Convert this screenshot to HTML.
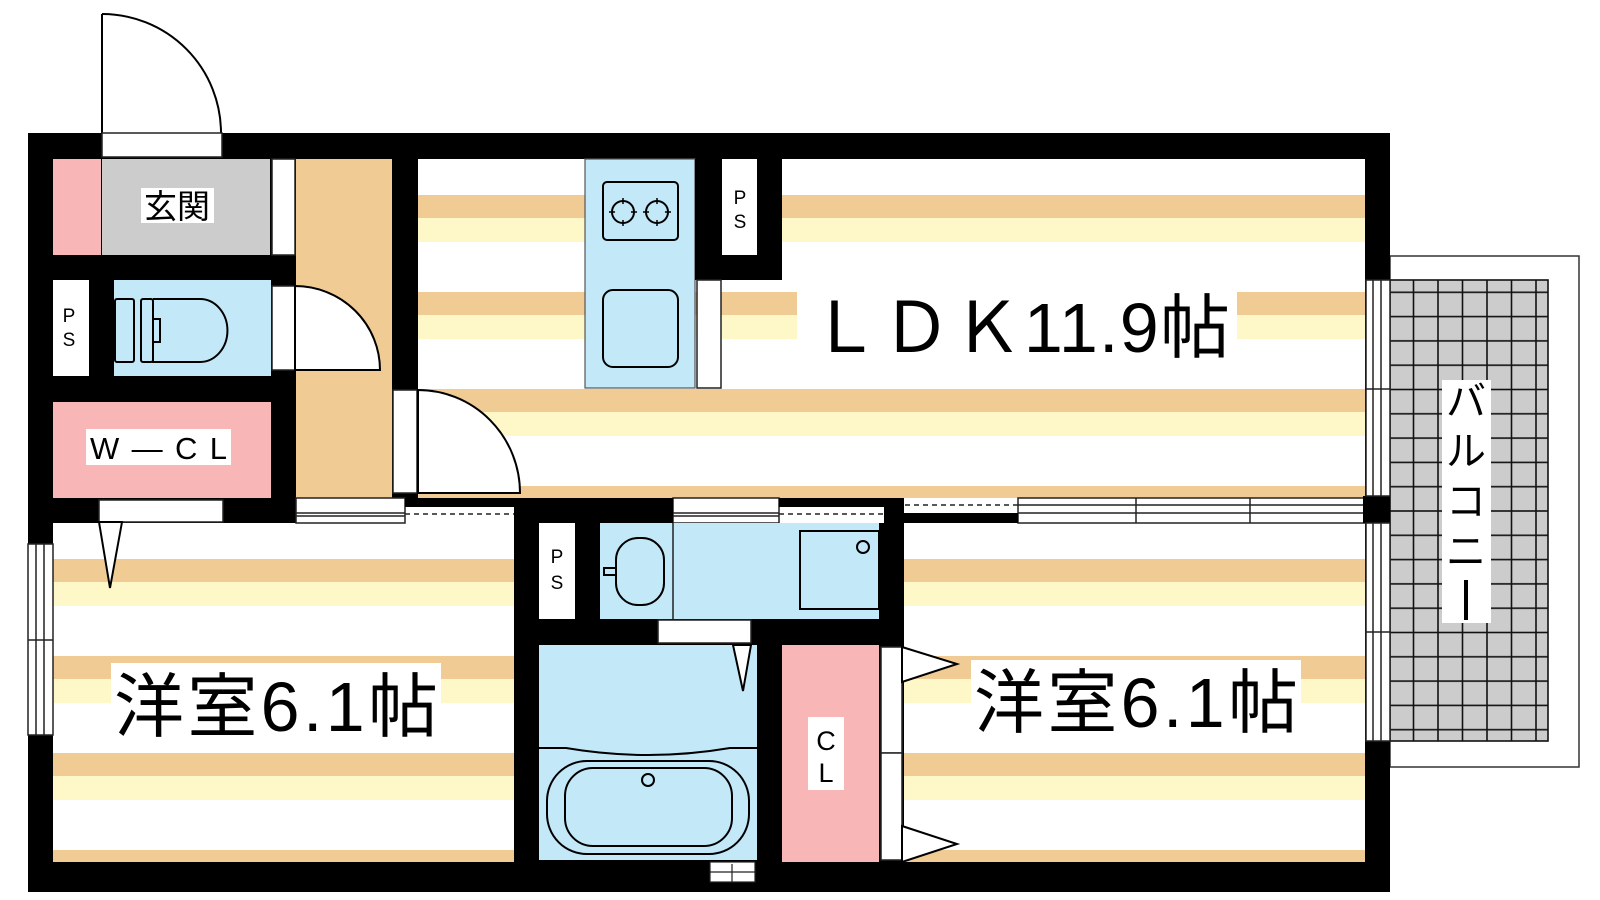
<!DOCTYPE html>
<html><head><meta charset="utf-8"><style>
html,body{margin:0;padding:0;background:#fff;}
svg{display:block;}
text{font-family:"Liberation Sans","Noto Sans CJK JP",sans-serif;fill:#000;}
</style></head><body>
<svg width="1600" height="900" viewBox="0 0 1600 900" xmlns="http://www.w3.org/2000/svg">
<defs>
<pattern id="st" x="0" y="98" width="10" height="97" patternUnits="userSpaceOnUse">
<rect x="0" y="0" width="10" height="23" fill="#f0cb94"/>
<rect x="0" y="23" width="10" height="24" fill="#fef8c9"/>
</pattern>
<pattern id="st2" x="0" y="74" width="10" height="97" patternUnits="userSpaceOnUse">
<rect x="0" y="0" width="10" height="23" fill="#f0cb94"/>
<rect x="0" y="23" width="10" height="24" fill="#fef8c9"/>
</pattern>
<pattern id="grid" x="1389" y="268" width="24.5" height="24.3" patternUnits="userSpaceOnUse">
<rect width="24.5" height="24.3" fill="#cccccc" stroke="#111" stroke-width="1.6"/>
</pattern>
</defs>

<rect x="1390" y="256" width="189" height="511" fill="#fff" stroke="#333" stroke-width="1.5"/>
<rect x="1390" y="280" width="158" height="461" fill="url(#grid)" stroke="#111" stroke-width="1.6"/>
<rect x="1442" y="380" width="49" height="243" fill="#fff"/>
<text x="1466" y="415" font-size="40" text-anchor="middle">バ</text>
<text x="1466" y="465" font-size="40" text-anchor="middle">ル</text>
<text x="1466" y="515" font-size="40" text-anchor="middle">コ</text>
<text x="1466" y="565" font-size="40" text-anchor="middle">ニ</text>
<rect x="1464" y="580" width="4" height="40" fill="#000"/>

<path d="M102,14 A119,119 0 0 1 221,133" fill="none" stroke="#000" stroke-width="2"/>
<line x1="102" y1="14" x2="102" y2="133" stroke="#000" stroke-width="2"/>

<rect x="28" y="133" width="1362" height="759" fill="#000"/>

<rect x="418" y="159" width="947" height="339" fill="#fff"/>
<rect x="418" y="159" width="947" height="339" fill="url(#st)"/>
<rect x="296" y="159" width="96" height="339" fill="#f0cb94"/>
<rect x="53" y="523" width="461" height="339" fill="#fff"/>
<rect x="53" y="523" width="461" height="339" fill="url(#st2)"/>
<rect x="904" y="523" width="461" height="339" fill="#fff"/>
<rect x="904" y="523" width="461" height="339" fill="url(#st2)"/>

<rect x="53" y="159" width="48" height="96" fill="#f8b6b7"/>
<rect x="102" y="159" width="168" height="96" fill="#cccccc"/>
<rect x="272" y="159" width="23" height="96" fill="#fff" stroke="#222" stroke-width="1.5"/>
<rect x="102" y="133" width="120" height="24" fill="#fff" stroke="#222" stroke-width="1.5"/>
<rect x="141" y="188" width="73" height="35" fill="#fff"/>
<text x="177" y="218" font-size="33" text-anchor="middle">玄関</text>

<rect x="53" y="280" width="36" height="96" fill="#fff"/>
<text x="69" y="322" font-size="19" text-anchor="middle">P</text>
<text x="69" y="346" font-size="19" text-anchor="middle">S</text>

<rect x="114" y="280" width="157" height="96" fill="#c3e9f9"/>
<g fill="none" stroke="#000" stroke-width="2">
<rect x="115" y="299" width="19" height="63" rx="2"/>
<rect x="141" y="299" width="12" height="63" rx="2"/>
<path d="M153,299 H200 A27,31 0 0 1 200,362 H153 V342 H160 V319 H153"/>
</g>
<rect x="272" y="286" width="23" height="84" fill="#fff" stroke="#222" stroke-width="1.5"/>
<path d="M295,286 L295,370 L380,370 A85,84 0 0 0 295,286 Z" fill="#fff" stroke="#000" stroke-width="2"/>

<rect x="53" y="402" width="218" height="96" fill="#f8b6b7"/>
<rect x="86" y="429" width="145" height="36" fill="#fff"/>
<text x="90" y="459" font-size="31" textLength="137" lengthAdjust="spacing">W—CL</text>
<rect x="99" y="500" width="124" height="22" fill="#fff" stroke="#222" stroke-width="1.5"/>
<path d="M99,522 L122,522 L110,588 Z" fill="#fff" stroke="#000" stroke-width="2"/>

<rect x="393" y="390" width="24" height="103" fill="#fff" stroke="#222" stroke-width="1.5"/>
<path d="M418,390 L418,493 L520,493 A102,103 0 0 0 418,390 Z" fill="#fff" stroke="#000" stroke-width="2"/>

<rect x="585" y="159" width="110" height="229" fill="#c3e9f9" stroke="#555" stroke-width="1.2"/>
<g fill="none" stroke="#000" stroke-width="2">
<rect x="603" y="182" width="75" height="58" rx="4"/>
<circle cx="623" cy="212" r="11"/><circle cx="657" cy="212" r="11"/>
<path d="M609,212h28M623,198v28M643,212h28M657,198v28" stroke-width="1.5"/>
<rect x="603" y="290" width="75" height="77" rx="10"/>
</g>
<circle cx="623" cy="212" r="8" fill="#c3e9f9"/><circle cx="657" cy="212" r="8" fill="#c3e9f9"/>
<rect x="695" y="159" width="87" height="121" fill="#000"/>
<rect x="722" y="159" width="35" height="96" fill="#fff"/>
<text x="740" y="204" font-size="19" text-anchor="middle">P</text>
<text x="740" y="228" font-size="19" text-anchor="middle">S</text>
<rect x="697" y="280" width="24" height="108" fill="#fff" stroke="#222" stroke-width="1.5"/>

<rect x="797" y="285" width="440" height="76" fill="#fff"/>
<text x="810" y="352" font-size="70" textLength="420" lengthAdjust="spacing">ＬＤＫ11.9帖</text>

<rect x="296" y="498" width="1069" height="25" fill="#fff"/>
<g stroke="#222" stroke-width="1.5" fill="none">
<rect x="296" y="498" width="109" height="25"/>
<line x1="296" y1="513" x2="405" y2="513"/><line x1="296" y1="516" x2="405" y2="516"/>
<rect x="673" y="498" width="106" height="25"/>
<line x1="673" y1="513" x2="779" y2="513"/><line x1="673" y1="516" x2="779" y2="516"/>
<rect x="1018" y="498" width="347" height="25"/>
<line x1="1136" y1="498" x2="1136" y2="523"/><line x1="1250" y1="498" x2="1250" y2="523"/>
<line x1="1018" y1="505" x2="1365" y2="505"/><line x1="1018" y1="513" x2="1365" y2="513"/>
</g>
<rect x="405" y="498" width="109" height="9" fill="#000"/>
<rect x="779" y="498" width="105" height="9" fill="#000"/>
<rect x="903" y="513" width="115" height="10" fill="#000"/>
<g stroke="#222" stroke-width="1.5" stroke-dasharray="5,4">
<line x1="405" y1="514" x2="514" y2="514"/>
<line x1="779" y1="514" x2="884" y2="514"/>
<line x1="905" y1="505" x2="1018" y2="505"/>
</g>
<rect x="1363" y="496" width="27" height="27" fill="#000"/>

<rect x="514" y="498" width="159" height="25" fill="#000"/>
<rect x="884" y="498" width="20" height="25" fill="#000"/>
<rect x="539" y="523" width="36" height="96" fill="#fff"/>
<text x="557" y="563" font-size="19" text-anchor="middle">P</text>
<text x="557" y="589" font-size="19" text-anchor="middle">S</text>
<rect x="600" y="523" width="279" height="96" fill="#c3e9f9"/>
<line x1="673" y1="523" x2="673" y2="619" stroke="#222" stroke-width="1.5"/>
<g fill="none" stroke="#000" stroke-width="2">
<rect x="616" y="538" width="48" height="67" rx="22"/>
<path d="M616,568 h-12 v7 h12"/>
<rect x="800" y="531" width="79" height="78"/>
<circle cx="863" cy="547" r="6"/>
</g>
<rect x="658" y="620" width="93" height="23" fill="#fff" stroke="#222" stroke-width="1.5"/>
<rect x="539" y="645" width="218" height="215" fill="#c3e9f9"/>
<path d="M733,645 L751,645 L743,691 Z" fill="#fff" stroke="#000" stroke-width="2"/>
<g fill="none" stroke="#000" stroke-width="2">
<path d="M539,748 H566 Q648,762 730,748 H757"/>
<rect x="547" y="761" width="202" height="93" rx="40"/>
<rect x="565" y="768" width="167" height="78" rx="28"/>
<circle cx="648" cy="780" r="6"/>
</g>
<rect x="710" y="862" width="45" height="20" fill="#fff" stroke="#222" stroke-width="1.2"/>
<line x1="710" y1="872" x2="755" y2="872" stroke="#222" stroke-width="1.2"/>
<line x1="732" y1="864" x2="732" y2="882" stroke="#222" stroke-width="1.2"/>

<rect x="782" y="645" width="97" height="217" fill="#f8b6b7"/>
<rect x="808" y="717" width="36" height="73" fill="#fff"/>
<text x="826" y="750" font-size="27" text-anchor="middle">C</text>
<text x="826" y="782" font-size="27" text-anchor="middle">L</text>
<rect x="881" y="647" width="21" height="106" fill="#fff" stroke="#222" stroke-width="1.5"/>
<rect x="881" y="753" width="21" height="107" fill="#fff" stroke="#222" stroke-width="1.5"/>
<path d="M902,647 L957,664 L902,682 Z" fill="#fff" stroke="#000" stroke-width="2"/>
<path d="M902,826 L957,844 L902,862 Z" fill="#fff" stroke="#000" stroke-width="2"/>

<g fill="#fff" stroke="#222" stroke-width="1.5">
<rect x="28" y="544" width="25" height="191"/>
<rect x="1366" y="280" width="24" height="216"/>
<rect x="1366" y="523" width="24" height="218"/>
</g>
<g stroke="#222" stroke-width="1.5">
<line x1="36" y1="544" x2="36" y2="735"/><line x1="44" y1="544" x2="44" y2="735"/>
<line x1="28" y1="640" x2="53" y2="640"/>
<line x1="1373" y1="280" x2="1373" y2="496"/><line x1="1381" y1="280" x2="1381" y2="496"/>
<line x1="1366" y1="389" x2="1390" y2="389"/>
<line x1="1373" y1="523" x2="1373" y2="741"/><line x1="1381" y1="523" x2="1381" y2="741"/>
<line x1="1366" y1="632" x2="1390" y2="632"/>
</g>

<rect x="111" y="663" width="330" height="76" fill="#fff"/>
<text x="114" y="731" font-size="70" textLength="324" lengthAdjust="spacing">洋室6.1帖</text>
<rect x="971" y="660" width="330" height="76" fill="#fff"/>
<text x="974" y="727" font-size="70" textLength="324" lengthAdjust="spacing">洋室6.1帖</text>
</svg>
</body></html>
